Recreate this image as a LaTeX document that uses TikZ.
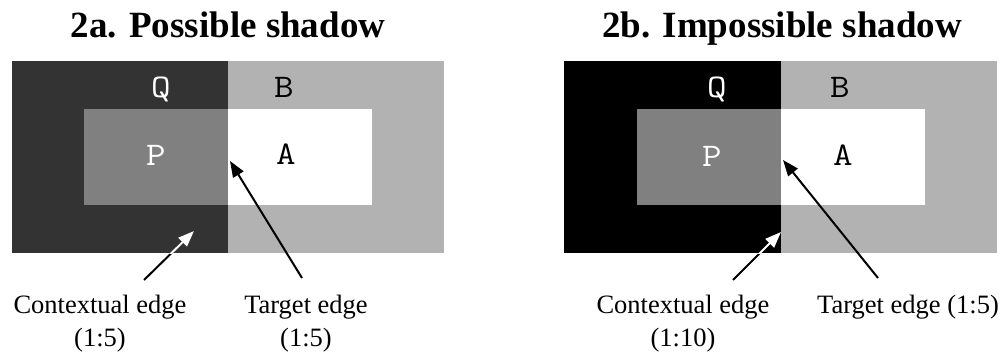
\documentclass[tikz,border=0pt]{standalone}
\usepackage{fontspec}
\setmainfont{Liberation Serif}
\usetikzlibrary{arrows.meta}
\definecolor{darkq}{HTML}{333333}
\definecolor{lightb}{HTML}{B2B2B2}
\definecolor{midp}{HTML}{808080}
\tikzset{
  titletext/.style={font=\fontsize{37}{40}\selectfont\bfseries, inner sep=0pt, anchor=base},
  lettertext/.style={font=\ttfamily\fontsize{33}{35}\selectfont, inner sep=0pt, anchor=base, xscale=1.15},
  labeltext/.style={font=\fontsize{26.5}{33}\selectfont, inner sep=0pt, anchor=base, align=center},
  edgearrow/.style={line width=2pt, -{Triangle[length=16pt,width=12pt]}},
}
\begin{document}
\begin{tikzpicture}[x=1pt,y=-1pt]
\useasboundingbox (0,0) rectangle (1005,354);
\fill[white] (0,0) rectangle (1005,354);
% ---------- panel a ----------
\node[titletext] (ta) at (228,37) {2a. Possible shadow};
\fill[darkq] (12,61) rectangle (228,253);
\fill[lightb] (228,61) rectangle (444,253);
\fill[midp] (84,109) rectangle (228,205);
\fill[white] (228,109) rectangle (372,205);
\node[lettertext, text=white] (qa) at (161,97) {Q};
\node[lettertext] (ba) at (284,97) {B};
\node[lettertext, text=white] (pa) at (156,165) {P};
\node[lettertext] (aa) at (286,164) {A};
\node[labeltext] (ca) at (100,346) {Contextual edge\\(1:5)};
\node[labeltext] (ga) at (306,346) {Target edge\\(1:5)};
\coordinate (catail) at (144,280);
\coordinate (catip) at (194,231);
\coordinate (gatail) at (302,278);
\coordinate (gatip) at (230,161);
\draw[edgearrow] (catail) -- (catip);
\begin{scope}
  \clip (12,61) rectangle (228,253);
  \draw[edgearrow, white] (catail) -- (catip);
\end{scope}
\draw[edgearrow] (gatail) -- (gatip);
% ---------- panel b ----------
\node[titletext] (tb) at (782,37) {2b. Impossible shadow};
\fill[black] (564,61) rectangle (781,253);
\fill[lightb] (781,61) rectangle (997,253);
\fill[midp] (637,109) rectangle (781,205);
\fill[white] (781,109) rectangle (925,205);
\node[lettertext, text=white] (qb) at (717,97) {Q};
\node[lettertext] (bb) at (840,97) {B};
\node[lettertext, text=white] (pb) at (712,166) {P};
\node[lettertext] (ab) at (843,165) {A};
\node[labeltext] (cb) at (683,346) {Contextual edge\\(1:10)};
\node[labeltext] (gb) at (908,313) {Target edge (1:5)};
\coordinate (cbtail) at (733,280);
\coordinate (cbtip) at (781,232);
\coordinate (gbtail) at (878,278);
\coordinate (gbtip) at (783,160);
\draw[edgearrow] (cbtail) -- (cbtip);
\begin{scope}
  \clip (564,61) rectangle (781,253);
  \draw[edgearrow, white] (cbtail) -- (cbtip);
\end{scope}
\draw[edgearrow] (gbtail) -- (gbtip);
\end{tikzpicture}
\end{document}
